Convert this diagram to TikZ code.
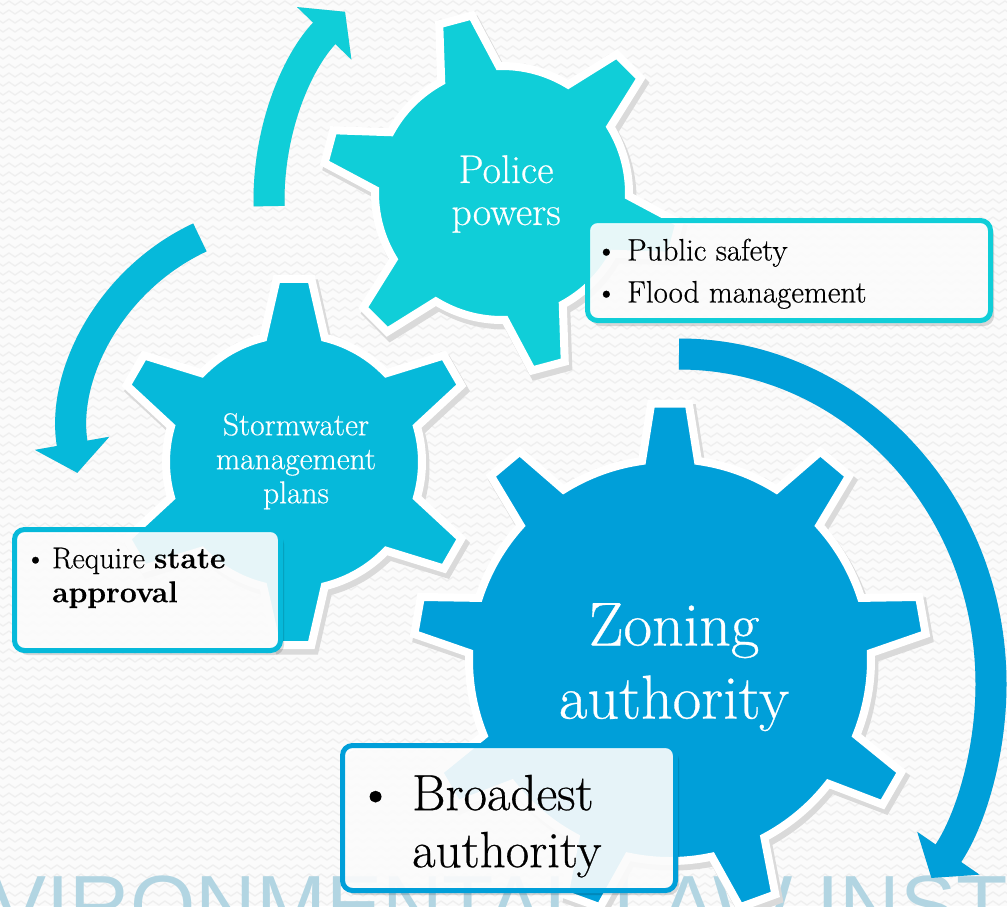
\documentclass[tikz,border=0pt]{standalone}
\usepackage{fontspec}
\setmainfont{Latin Modern Roman}[FakeBold=0.5]
\newfontfamily\markfont{Liberation Sans}
\usetikzlibrary{arrows.meta, calc, decorations.pathmorphing}

\definecolor{policeblue}{RGB}{16,206,216}
\definecolor{stormblue}{RGB}{6,185,218}
\definecolor{zoneblue}{RGB}{0,159,217}
\definecolor{markblue}{RGB}{178,213,226}
\definecolor{slidewhite}{RGB}{251,251,251}
\definecolor{zigzaggray}{RGB}{239,239,239}
\definecolor{shadowgray}{RGB}{218,218,218}

% #1 style, #2,#3 centre, #4 teeth, #5 tip radius, #6 root radius,
% #7 tip half angle, #8 root half angle, #9 angle of first tooth
\newcommand{\drawgear}[9]{%
  \filldraw[#1] ($(#2,#3)+({#9-#8}:#6)$)
    \foreach \k in {1,...,#4}{
      -- ($(#2,#3)+({#9+(\k-1)*360/#4-#7}:#5)$)
      -- ($(#2,#3)+({#9+(\k-1)*360/#4+#7}:#5)$)
      -- ($(#2,#3)+({#9+(\k-1)*360/#4+#8}:#6)$)
      arc[start angle={#9+(\k-1)*360/#4+#8}, end angle={#9+\k*360/#4-#8}, radius=#6]
    } -- cycle;}
\newcommand{\itembullet}[1]{\makebox[#1][l]{\textbullet}}

\tikzset{
  zigzag row/.style={zigzaggray, line width=1.3pt, decorate,
    decoration={zigzag, segment length=12pt, amplitude=2pt}},
  gear/.style={fill=#1, draw=white, line width=8pt},
  gearshadow/.style={fill=shadowgray, draw=shadowgray, line width=9pt},
  bigarrow/.style={draw=#1, line width=31pt, -{Triangle[width=74pt,length=30pt]}},
  notebox/.style={draw=#1, line width=5pt, fill=white, fill opacity=0.9, rounded corners=10pt},
  boxshadow/.style={fill=black, opacity=0.14, rounded corners=10pt},
  gearlabel/.style={text=white, align=center, inner sep=0pt, anchor=north},
  notetext/.style={align=left, inner sep=0pt, anchor=north west, text=black},
}

\begin{document}
\begin{tikzpicture}[x=1pt, y=1pt, yscale=-1]
	% Slide background
	\useasboundingbox (0,0) rectangle (1007,906);
	\clip (0,0) rectangle (1007,906);
	\fill[slidewhite] (0,0) rectangle (1007,906);
	\foreach \row in {3,12,...,906}
		\draw[zigzag row] (-6,\row) -- (1013,\row);
	\node[anchor=base west, inner sep=0pt, text=markblue, font=\markfont\fontsize{84}{84}\selectfont] (watermark) at (-10,934) {VIRONMENTAL LAW INST};
	% Curved arrows
	\coordinate (upstart) at ($(540,200)+(178.7:271)$);
	\coordinate (downstart) at ($(292,435)+(245:218)$);
	\coordinate (roundstart) at ($(679,684)+(-90:330)$);
	\begin{scope}[shift={(3,5)}]
		\draw[bigarrow=shadowgray] (upstart) arc[start angle=178.7, end angle=224, radius=271];
		\draw[bigarrow=shadowgray] (downstart) arc[start angle=245, end angle=170, radius=218];
		\draw[bigarrow=shadowgray] (roundstart) arc[start angle=-90, end angle=36, x radius=312, y radius=330];
	\end{scope}
	\draw[bigarrow=policeblue] (upstart) arc[start angle=178.7, end angle=224, radius=271];
	\draw[bigarrow=stormblue] (downstart) arc[start angle=245, end angle=170, radius=218];
	\draw[bigarrow=zoneblue] (roundstart) arc[start angle=-90, end angle=36, x radius=312, y radius=330];
	% Gears
	\drawgear{gearshadow}{505}{198}{6}{180}{127}{5.4}{13.6}{-45}
	\drawgear{gearshadow}{297}{467}{6}{184}{128}{5.4}{13.9}{-90}
	\drawgear{gearshadow}{673}{665}{9}{257}{201}{4.2}{8}{-90}
	\drawgear{gear=policeblue}{502}{193}{6}{180}{127}{5.4}{13.6}{-45}
	\drawgear{gear=stormblue}{294}{462}{6}{184}{128}{5.4}{13.9}{-90}
	\drawgear{gear=zoneblue}{670}{660}{9}{257}{201}{4.2}{8}{-90}
	\node[gearlabel, font=\fontsize{40}{42}\selectfont] (police) at (506,155) {Police\\powers};
	\node[gearlabel, font=\fontsize{31.5}{34}\selectfont] (storm) at (296,413) {Stormwater\\management\\plans};
	\node[gearlabel, font=\fontsize{62}{73}\selectfont] (zoning) at (674,603) {Zoning\\authority};
	% Note boxes
	\fill[boxshadow] (591,225) rectangle (994,326);
	\fill[boxshadow] (18,534) rectangle (284,655);
	\fill[boxshadow] (346,750) rectangle (679,895);
	\draw[notebox=policeblue] (587.5,220.5) rectangle (990.5,320.5);
	\draw[notebox=stormblue] (14.5,529.5) rectangle (280.5,650.5);
	\draw[notebox=zoneblue] (342.5,745.5) rectangle (675.5,890.5);
	\node[notetext, font=\fontsize{31}{42}\selectfont] (safety) at (595,238.5) {\itembullet{32pt}Public safety\\\itembullet{32pt}Flood management};
	\node[notetext, font=\fontsize{30}{34}\selectfont] (approval) at (24.5,547.5) {\itembullet{27.5pt}Require \textbf{state}\\\hspace*{27.5pt}\textbf{approval}};
	\node[notetext, font=\fontsize{51}{57}\selectfont] (broadest) at (357,774.6) {\itembullet{55pt}Broadest\\\hspace*{55pt}authority};
\end{tikzpicture}
\end{document}
